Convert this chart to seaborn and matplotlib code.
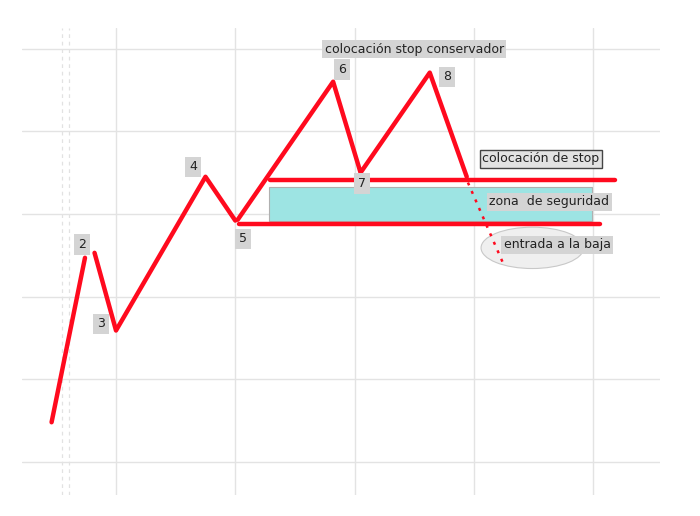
import numpy as np
import pandas as pd
import matplotlib
matplotlib.use('Agg')
import matplotlib.pyplot as plt
from matplotlib.patches import Rectangle, Ellipse
import seaborn as sns

# price path pieces (time, price)
seg_a_x = [-5.4, -2.6]
seg_a_y = [4.8, 24.7]
seg_b_x = [-1.8, 0.0, 7.5, 10.0]
seg_b_y = [25.3, 15.9, 34.5, 29.2]
seg_c_x = [10.2, 18.2, 20.5, 26.3, 29.4]
seg_c_y = [29.3, 46.0, 35.0, 47.1, 34.5]

# stop line and support line
stop_x = [12.9, 41.8]
stop_y = [34.1, 34.1]
support_x = [10.3, 40.6]
support_y = [28.8, 28.8]

# projected drop (dotted)
drop_x = [29.5, 32.4]
drop_y = [33.8, 24.2]

# safety zone and entry ellipse
zone_x = [12.8, 39.9]
zone_y = [29.1, 33.3]
entry_center = (34.9, 25.9)
entry_size = (8.6, 5.0)

# wave numbers
wave_labels = ['2', '3', '4', '5', '6', '7', '8']
wave_x = [-2.85, -1.26, 6.46, 10.65, 18.95, 20.6, 27.76]
wave_y = [26.3, 16.7, 35.7, 27.0, 47.5, 33.7, 46.6]

# annotations
notes = ['colocación stop conservador', 'colocación de stop',
         'zona  de seguridad', 'entrada a la baja']
notes_x = [25.0, 35.6, 36.3, 37.0]
notes_y = [49.9, 36.7, 31.5, 26.3]

red = '#ff0a1e'

sns.set_style('white')
fig = plt.figure(figsize=(7, 5.16), dpi=100)
ax = fig.add_axes([22/700, 21/516, 638/700, 467/516])

segs = pd.DataFrame({
    'x': seg_a_x + seg_b_x + seg_c_x + stop_x + support_x,
    'y': seg_a_y + seg_b_y + seg_c_y + stop_y + support_y,
    'seg': ['a']*2 + ['b']*4 + ['c']*5 + ['s']*2 + ['r']*2,
})
sns.lineplot(data=segs, x='x', y='y', units='seg', estimator=None, sort=False,
             color=red, lw=3.2, ax=ax)
sns.lineplot(x=drop_x, y=drop_y, color=red, lw=1.8, linestyle=(0, (1.2, 2.5)),
             sort=False, estimator=None, ax=ax)

ax.add_patch(Rectangle((zone_x[0], zone_y[0]), zone_x[1]-zone_x[0], zone_y[1]-zone_y[0],
                       fc='#9de4e3', ec='#b0b0b0', lw=0.8, zorder=1))
ax.add_patch(Ellipse(entry_center, entry_size[0], entry_size[1],
                     fc='#efefef', ec='#c8c8c8', lw=0.8, zorder=1))

# dashed reference lines on the left
for xv in [-4.53, -3.94]:
    ax.axvline(xv, color='#e2e2e2', lw=0.9, ls=(0, (3, 3)), zorder=0)

for t, x, y in zip(wave_labels, wave_x, wave_y):
    ax.text(x, y, t, ha='center', va='center', fontsize=9, color='#222222',
            bbox=dict(boxstyle='square,pad=0.3', fc='#d4d4d4', ec='none'), zorder=5)

for i, (t, x, y) in enumerate(zip(notes, notes_x, notes_y)):
    edge = '#444444' if i == 1 else 'none'
    face = '#e2e2e2' if i == 1 else '#d4d4d4'
    ax.text(x, y, t, ha='center', va='center', fontsize=9, color='#222222',
            bbox=dict(boxstyle='square,pad=0.2', fc=face, ec=edge, lw=1), zorder=5)

ax.set_xlim(-7.88, 45.6)
ax.set_ylim(-4.0, 52.5)
ax.set_xticks([0, 10, 20, 30, 40])
ax.set_yticks([0, 10, 20, 30, 40, 50])
ax.grid(True, color='#e3e3e3', lw=1)
ax.tick_params(length=0, labelbottom=False, labelleft=False)
ax.set_xlabel('')
ax.set_ylabel('')
for s in ax.spines.values():
    s.set_visible(False)

fig.savefig('out.png', dpi=100)
